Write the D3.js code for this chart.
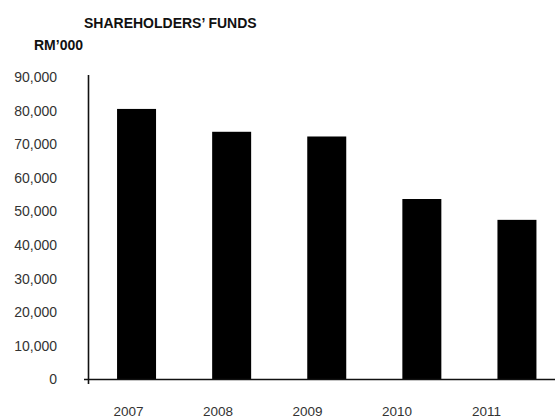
<!DOCTYPE html>
<html>
<head>
<meta charset="utf-8">
<script src="https://cdn.jsdelivr.net/npm/d3@7/dist/d3.min.js"></script>
<style>
  html, body { margin: 0; padding: 0; background: #fff; }
  svg { display: block; }
  text { font-family: "Liberation Sans", Arial, Helvetica, sans-serif; }
</style>
</head>
<body>
<svg id="chart" width="555" height="419"></svg>
<script>
// Shareholders' funds, RM'000, by financial year
const years = ["2007", "2008", "2009", "2010", "2011"];
const funds = [80500, 73700, 72300, 53700, 47500];
const yTicks = [0, 10000, 20000, 30000, 40000, 50000, 60000, 70000, 80000, 90000];

const svg = d3.select("#chart");

const y = d3.scaleLinear().domain([0, 90000]).range([379.5, 77]);

const x = d3.scaleBand()
  .domain(years)
  .range([89, 564.5])
  .paddingInner(0.59)
  .paddingOuter(0.295);

// year labels sit on their own evenly spaced positions
const xLabel = d3.scalePoint().domain(years).range([128, 486]);

// bars
svg.append("g")
  .selectAll("rect")
  .data(years.map((yr, i) => ({ yr, v: funds[i] })))
  .join("rect")
  .attr("x", d => x(d.yr))
  .attr("width", x.bandwidth())
  .attr("y", d => y(d.v))
  .attr("height", d => y(0) - y(d.v))
  .attr("fill", "#000");

// value axis
const yAxis = svg.append("g")
  .attr("transform", "translate(89,0)")
  .call(d3.axisLeft(y).tickValues(yTicks).tickSize(0).tickPadding(32).tickFormat(d3.format(",")));
yAxis.select(".domain").remove();
yAxis.selectAll("text")
  .attr("font-size", 14)
  .attr("fill", "#333")
  .attr("font-family", "Liberation Sans, Arial, sans-serif");

svg.append("line")
  .attr("x1", 88.5).attr("x2", 88.5)
  .attr("y1", y(90000) - 2).attr("y2", y(0) + 4.5)
  .attr("stroke", "#111").attr("stroke-width", 1.6);

// category axis
svg.append("line")
  .attr("x1", 84).attr("x2", 555)
  .attr("y1", y(0)).attr("y2", y(0))
  .attr("stroke", "#111").attr("stroke-width", 1.6);

const xAxis = svg.append("g")
  .attr("transform", "translate(0,406)")
  .call(d3.axisBottom(xLabel).tickSize(0).tickPadding(0));
xAxis.select(".domain").remove();
xAxis.selectAll("text")
  .attr("font-size", 13.5)
  .attr("fill", "#333")
  .attr("font-family", "Liberation Sans, Arial, sans-serif");

// titles
svg.append("text")
  .attr("x", 84).attr("y", 27.5)
  .attr("font-size", 14).attr("font-weight", "bold").attr("fill", "#111")
  .text("SHAREHOLDERS\u2019 FUNDS");

svg.append("text")
  .attr("x", 34).attr("y", 50)
  .attr("font-size", 14).attr("font-weight", "bold").attr("fill", "#111")
  .text("RM\u2019000");
</script>
</body>
</html>
